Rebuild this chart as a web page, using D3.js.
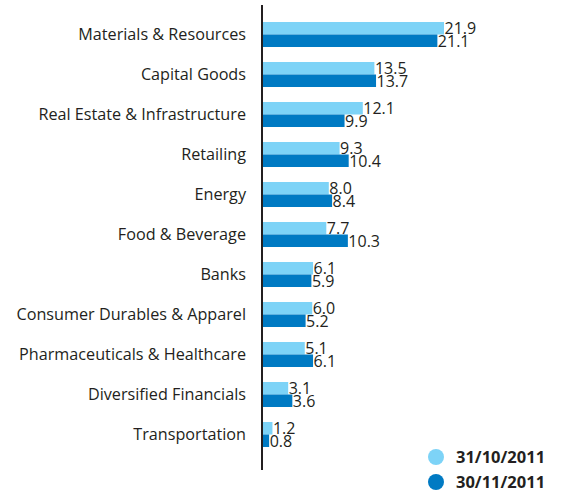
<!DOCTYPE html>
<html>
<head>
<meta charset="utf-8">
<script src="https://cdn.jsdelivr.net/npm/d3@7"></script>
<style>
  body { margin: 0; background: #fff; }
  svg { display: block; font-family: "Open Sans", "DejaVu Sans", sans-serif; }
  .cat { font-size: 16.2px; fill: #231f20; }
  .val { font-size: 16px; fill: #231f20; }
  .legend { font-size: 16.5px; font-weight: bold; fill: #231f20; }
</style>
</head>
<body>
<svg width="563" height="490"></svg>
<script>
"use strict";

const categories = [
  "Materials & Resources",
  "Capital Goods",
  "Real Estate & Infrastructure",
  "Retailing",
  "Energy",
  "Food & Beverage",
  "Banks",
  "Consumer Durables & Apparel",
  "Pharmaceuticals & Healthcare",
  "Diversified Financials",
  "Transportation"
];
const octValues = [21.9, 13.5, 12.1, 9.3, 8.0, 7.7, 6.1, 6.0, 5.1, 3.1, 1.2];
const novValues = [21.1, 13.7, 9.9, 10.4, 8.4, 10.3, 5.9, 5.2, 6.1, 3.6, 0.8];
const seriesNames = ["31/10/2011", "30/11/2011"];
const colors = ["#7dd3f7", "#007ac3"];

const svg = d3.select("svg");

const data = categories.map((c, i) => ({
  category: c,
  values: [octValues[i], novValues[i]]
}));

const xScale = d3.scaleLinear().domain([0, 21.9]).range([262.5, 444]);

const yScale = d3
  .scaleBand()
  .domain(categories)
  .range([14.5, 454.5])
  .paddingInner(0.375)
  .paddingOuter(0.1875);

const subScale = d3
  .scaleBand()
  .domain([0, 1])
  .range([0, yScale.bandwidth()]);

const rows = svg
  .selectAll("g.row")
  .data(data)
  .enter()
  .append("g")
  .attr("class", "row")
  .attr("transform", d => `translate(0,${yScale(d.category)})`);

rows
  .selectAll("rect")
  .data(d => d.values)
  .enter()
  .append("rect")
  .attr("x", xScale(0))
  .attr("y", (d, i) => subScale(i))
  .attr("width", d => xScale(d) - xScale(0))
  .attr("height", subScale.bandwidth())
  .attr("fill", (d, i) => colors[i]);

rows
  .selectAll("text.val")
  .data(d => d.values)
  .enter()
  .append("text")
  .attr("class", "val")
  .attr("x", d => xScale(d) + 0.5)
  .attr("y", (d, i) => subScale(i) + subScale.bandwidth() / 2)
  .attr("dy", "0.36em")
  .text(d => d3.format(".1f")(d));

rows
  .append("text")
  .attr("class", "cat")
  .attr("x", 246)
  .attr("y", yScale.bandwidth() / 2)
  .attr("dy", "0.36em")
  .attr("text-anchor", "end")
  .text(d => d.category);

// axis line
svg
  .append("line")
  .attr("x1", 262)
  .attr("x2", 262)
  .attr("y1", 5)
  .attr("y2", 470)
  .attr("stroke", "#231f20")
  .attr("stroke-width", 2);

const legend = svg.append("g").attr("transform", "translate(436,457)");

const legendItems = legend
  .selectAll("g")
  .data(seriesNames)
  .enter()
  .append("g")
  .attr("transform", (d, i) => `translate(0,${i * 25})`);

legendItems
  .append("circle")
  .attr("r", 8)
  .attr("fill", (d, i) => colors[i]);

legendItems
  .append("text")
  .attr("class", "legend")
  .attr("x", 20)
  .attr("dy", "0.36em")
  .text(d => d);
</script>
</body>
</html>
